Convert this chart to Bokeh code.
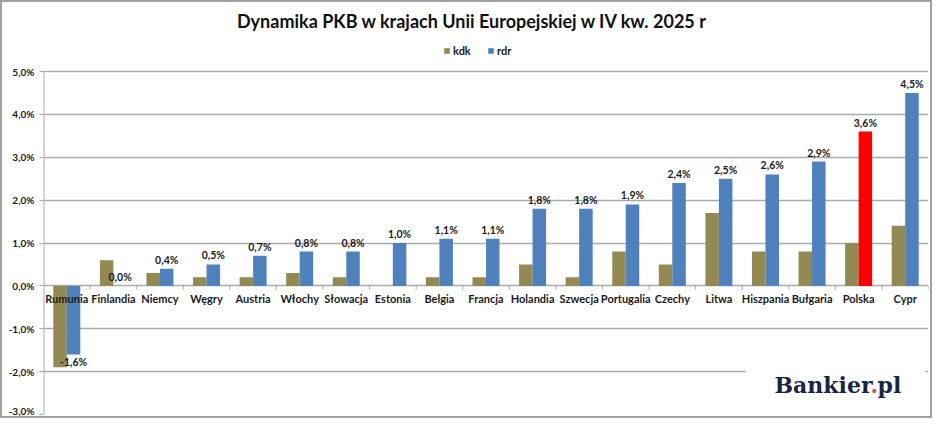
#Import Bokeh libs
from bokeh.core.properties import value
from bokeh.embed import file_html
from bokeh.models import (BoxAnnotation, ColumnDataSource, FactorRange, FixedTicker,
                          Label, Legend, LegendItem, Range1d)
from bokeh.plotting import figure
from bokeh.resources import INLINE
from bokeh.transform import dodge

#Data (GDP growth, Q4 2025)
kraje = ["Rumunia", "Finlandia", "Niemcy", "Węgry", "Austria", "Włochy", "Słowacja",
         "Estonia", "Belgia", "Francja", "Holandia", "Szwecja", "Portugalia", "Czechy",
         "Litwa", "Hiszpania", "Bułgaria", "Polska", "Cypr"]
kdk = [-1.9, 0.6, 0.3, 0.2, 0.2, 0.3, 0.2, 0.0, 0.2, 0.2, 0.5, 0.2, 0.8, 0.5, 1.7, 0.8, 0.8, 1.0, 1.4]
rdr = [-1.6, 0.0, 0.4, 0.5, 0.7, 0.8, 0.8, 1.0, 1.1, 1.1, 1.8, 1.8, 1.9, 2.4, 2.5, 2.6, 2.9, 3.6, 4.5]
y_ticks = [-3, -2, -1, 0, 1, 2, 3, 4, 5]

KDK_COLOR = "#938953"
RDR_COLOR = "#4f81bd"
GRID = "#ababab"
FONT = "Lato"

def pct(v):
    return f"{v:.1f}%".replace(".", ",")

rdr_colors = ["#ff0000" if k == "Polska" else RDR_COLOR for k in kraje]
source = ColumnDataSource(dict(kraj=kraje, kdk=kdk, rdr=rdr, kolor=rdr_colors))
pos = ColumnDataSource(dict(kraj=[k for k, v in zip(kraje, rdr) if v >= 0],
                            rdr=[v for v in rdr if v >= 0],
                            etykieta=[pct(v) for v in rdr if v >= 0]))
neg = ColumnDataSource(dict(kraj=[k for k, v in zip(kraje, rdr) if v < 0],
                            rdr=[v for v in rdr if v < 0],
                            etykieta=[pct(v) for v in rdr if v < 0]))

# frame runs up to the top of the canvas so title/legend/logo sit inside it
p = figure(width=932, height=418, x_range=FactorRange(*kraje, range_padding=0),
           y_range=Range1d(-3, 6.61), x_axis_location=None, title_location=None,
           toolbar_location=None, output_backend="svg",
           min_border_left=41, min_border_right=6, min_border_top=0, min_border_bottom=6)
p.styles = {"border": "2px solid #a0a0a0"}
p.outline_line_color = None
p.xgrid.visible = False
p.ygrid.grid_line_color = GRID
p.ygrid.grid_line_width = 1.5
p.ygrid.ticker = FixedTicker(ticks=y_ticks)

#y axis
ax = p.yaxis[0]
ax.ticker = FixedTicker(ticks=y_ticks)
ax.major_label_overrides = {t: pct(t) for t in y_ticks}
ax.major_label_text_font = FONT
ax.major_label_text_font_style = "bold"
ax.major_label_text_font_size = "10px"
ax.major_label_text_color = "#1a1a1a"
ax.major_label_standoff = 5
ax.major_tick_in = 0
ax.major_tick_out = 4
ax.minor_tick_line_color = None
ax.axis_line_color = None
ax.major_tick_line_color = GRID

#axis line only between -3% and 5%
p.segment(x0=dodge("x", -0.5, range=p.x_range), y0=y_ticks[0],
          x1=dodge("x", -0.5, range=p.x_range), y1=y_ticks[-1],
          line_color=GRID, line_width=2,
          source=ColumnDataSource(dict(x=[kraje[0]])))

#white patch behind the logo
p.add_layout(BoxAnnotation(left=702, right=882, left_units="screen", right_units="screen",
                           bottom=-2.4, top=-1.6, fill_color="white", fill_alpha=1,
                           line_color=None, level="underlay"))

#tick marks between categories
p.segment(x0=dodge("kraj", 0.5, range=p.x_range), y0=0,
          x1=dodge("kraj", 0.5, range=p.x_range), y1=-0.09,
          line_color=GRID, line_width=1, source=source)

r_kdk = p.vbar(x=dodge("kraj", -0.145, range=p.x_range), top="kdk", width=0.29,
               color=KDK_COLOR, line_color=None, source=source)
r_rdr = p.vbar(x=dodge("kraj", 0.145, range=p.x_range), top="rdr", width=0.29,
               fill_color="kolor", line_color=None, source=source)

#data labels
lab = dict(text_font=value(FONT), text_font_style="bold", text_font_size="10.5px",
           text_color="#1a1a1a", text_align="center")
p.text(x=dodge("kraj", 0.145, range=p.x_range), y="rdr", text="etykieta",
       text_baseline="bottom", y_offset=-3, source=pos, **lab)
p.text(x=dodge("kraj", 0.145, range=p.x_range), y="rdr", text="etykieta",
       text_baseline="top", y_offset=2, source=neg, **lab)

#category names along the zero line
p.text(x="kraj", y=0, text="kraj", text_baseline="middle", y_offset=13,
       text_font=value(FONT), text_font_style="bold", text_font_size="11px",
       text_color="#1a1a1a", text_align="center", source=source)

#legend
legend = Legend(items=[LegendItem(label="kdk", renderers=[r_kdk]),
                       LegendItem(label="rdr", renderers=[r_rdr])],
                orientation="horizontal", location=(400, 357),
                glyph_width=7, glyph_height=7, label_standoff=3, spacing=14,
                label_text_font=FONT, label_text_font_style="bold",
                label_text_font_size="11px", label_text_color="#1a1a1a",
                background_fill_alpha=0, border_line_color=None, padding=0, margin=0,
                label_height=14)
p.add_layout(legend)

#title
p.add_layout(Label(x=429, y=394, x_units="screen", y_units="screen",
                   text="Dynamika PKB w krajach Unii Europejskiej w IV kw. 2025 r",
                   text_font=FONT, text_font_style="bold", text_font_size="18px",
                   text_color="#111111", text_align="center", text_baseline="middle"))

#logo
logo = dict(x_units="screen", y_units="screen", y=30, text_font="DejaVu Serif",
            text_font_style="bold", text_font_size="22px", text_baseline="alphabetic")
p.add_layout(Label(x=731, text="Bankier", text_color="#1b2444", **logo))
p.add_layout(Label(x=827, text=".", text_color="#e5502a", **logo))
p.add_layout(Label(x=834, text="pl", text_color="#1b2444", **logo))

open("out.html", "w").write(file_html(p, INLINE))
